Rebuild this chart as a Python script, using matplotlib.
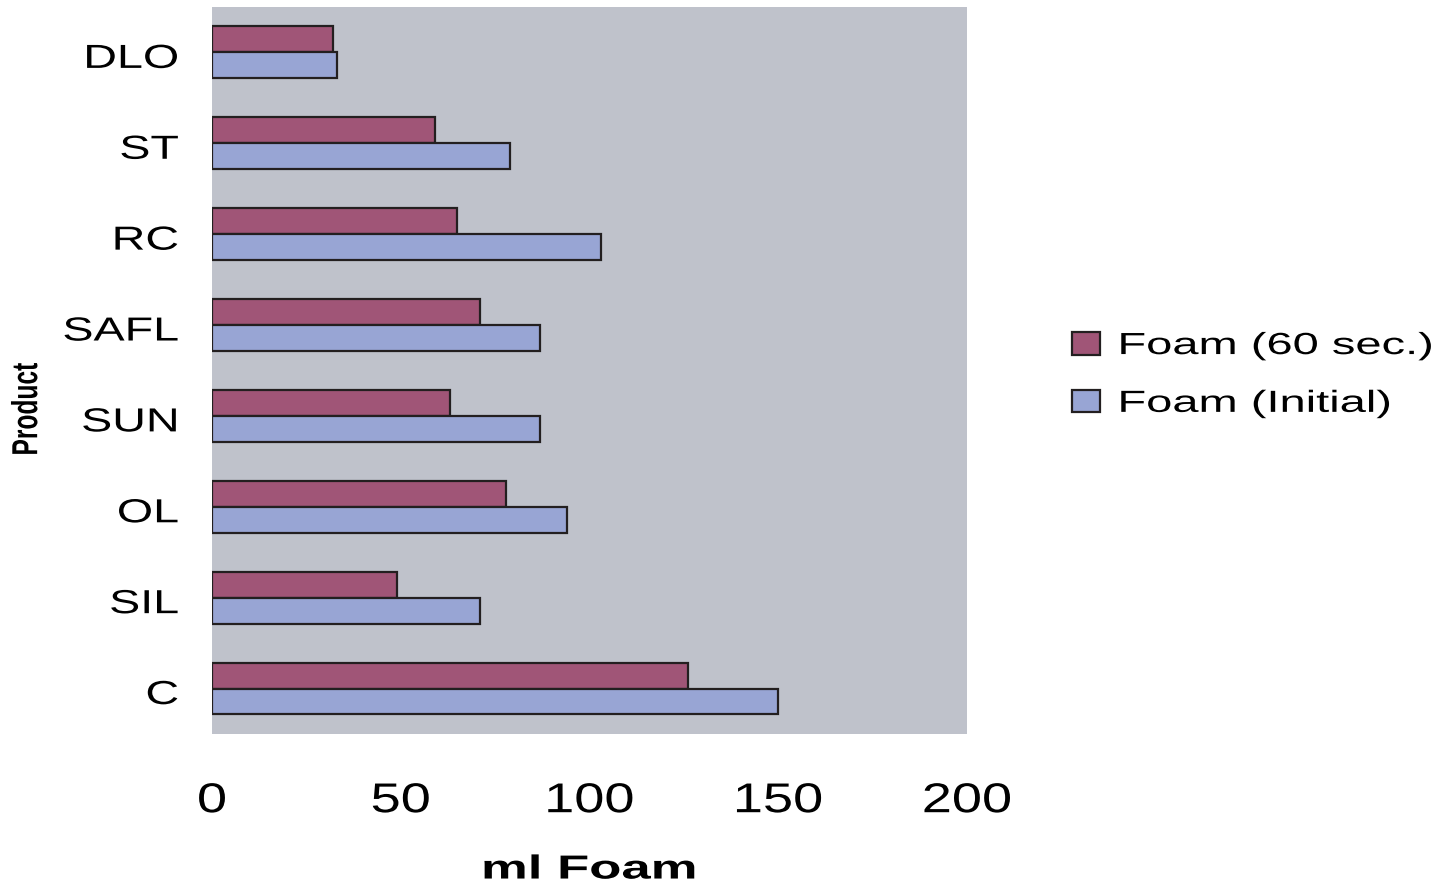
import numpy as np
import matplotlib
matplotlib.use("Agg")
import matplotlib.pyplot as plt
from matplotlib.patheffects import AbstractPathEffect
from matplotlib.transforms import Affine2D, ScaledTranslation

plt.rcParams['font.family'] = ['Liberation Sans', 'DejaVu Sans']

products = ["DLO", "ST", "RC", "SAFL", "SUN", "OL", "SIL", "C"]
foam_60 = [32, 59, 65, 71, 63, 78, 49, 126]
foam_initial = [33, 79, 103, 87, 87, 94, 71, 150]
x_ticks = [0, 50, 100, 150, 200]


class Stretch(AbstractPathEffect):
    # the source text is drawn wide, so scale glyphs along the text direction
    def __init__(self, sx, anchor="center"):
        super().__init__()
        self.sx = sx
        self.anchor = anchor

    def draw_path(self, renderer, gc, tpath, affine, rgbFace=None):
        ext = tpath.get_extents()
        if self.anchor == "right":
            p = ext.x1
        elif self.anchor == "left":
            p = ext.x0
        else:
            p = (ext.x0 + ext.x1) / 2
        t = Affine2D().translate(-p, 0).scale(self.sx, 1).translate(p, 0) + affine
        renderer.draw_path(gc, tpath, t, rgbFace)


fig = plt.figure(figsize=(14.55, 8.9), dpi=100)
ax = fig.add_axes([0.1457, 0.1753, 0.5189, 0.8169])
ax.set_facecolor("#bfc2cb")

y = np.arange(len(products))
h = 0.285
ax.barh(y - h / 2, foam_60, height=h, color="#a05577", edgecolor="#231f20",
        linewidth=1.6, label="Foam (60 sec.)")
ax.barh(y + h / 2, foam_initial, height=h, color="#98a5d4", edgecolor="#231f20",
        linewidth=1.6, label="Foam (Initial)")

ax.set_xlim(0, 200)
ax.set_ylim(len(products) - 0.5, -0.5)
ax.set_xticks(x_ticks)
ax.set_xticklabels([str(t) for t in x_ticks], fontsize=30)
ax.set_yticks(y)
ax.set_yticklabels(products, fontsize=24)
ax.tick_params(axis="x", length=0, pad=34)
ax.tick_params(axis="y", length=0, pad=24)
for s in ax.spines.values():
    s.set_visible(False)
for lbl in ax.get_xticklabels():
    lbl.set_path_effects([Stretch(1.3, "center")])
shift_down = ScaledTranslation(0, -0.035, fig.dpi_scale_trans)
for lbl in ax.get_yticklabels():
    lbl.set_path_effects([Stretch(1.4, "right")])
    lbl.set_transform(lbl.get_transform() + shift_down)

xl = ax.set_xlabel("ml Foam", fontsize=24, fontweight="bold", labelpad=24)
xl.set_path_effects([Stretch(1.58, "center")])

prod = fig.text(0.019, 0.54, "Product", rotation=90, fontsize=26, fontweight="bold",
                ha="center", va="center")
prod.set_path_effects([Stretch(0.68, "center")])

leg = fig.legend(loc="center left", bbox_to_anchor=(0.7265, 0.5787), frameon=False,
                 fontsize=22, borderpad=0, handlelength=0.92, handleheight=0.75,
                 handletextpad=0.6, labelspacing=0.91)
for t in leg.get_texts():
    t.set_path_effects([Stretch(1.54, "left")])

fig.savefig("out.png", dpi=100)
